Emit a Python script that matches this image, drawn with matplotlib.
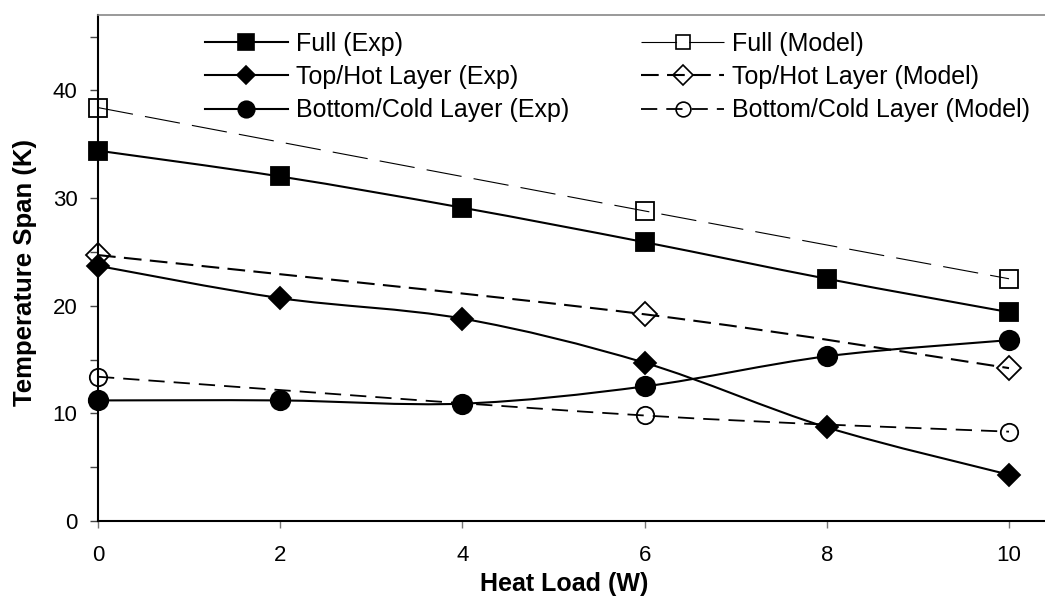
import matplotlib
matplotlib.use('Agg')
import matplotlib.pyplot as plt
import numpy as np
from matplotlib.path import Path
from matplotlib.patches import PathPatch
from matplotlib.lines import Line2D
from matplotlib.ticker import MultipleLocator

plt.rcParams['font.family'] = ['Liberation Sans', 'DejaVu Sans']

# measured points (heat load in W, span in K)
heat_exp = [0, 2, 4, 6, 8, 10]
full_exp = [34.4, 32.0, 29.1, 25.9, 22.5, 19.4]
top_exp = [23.7, 20.7, 18.8, 14.7, 8.7, 4.3]
bottom_exp = [11.2, 11.2, 10.9, 12.5, 15.3, 16.8]

# model points
heat_model = [0, 6, 10]
full_model = [38.4, 28.8, 22.5]
top_model = [24.7, 19.2, 14.2]
bottom_model = [13.4, 9.8, 8.3]

labels = ['Full (Exp)', 'Top/Hot Layer (Exp)', 'Bottom/Cold Layer (Exp)',
          'Full (Model)', 'Top/Hot Layer (Model)', 'Bottom/Cold Layer (Model)']


def smooth_path(x, y):
    # excel-like smoothed line, cubic bezier through each point
    pts = np.column_stack([x, y]).astype(float)
    n = len(pts)
    verts = [pts[0]]
    codes = [Path.MOVETO]
    for i in range(n - 1):
        p0 = pts[max(i - 1, 0)]
        p1 = pts[i]
        p2 = pts[i + 1]
        p3 = pts[min(i + 2, n - 1)]
        verts += [p1 + (p2 - p0) / 6, p2 - (p3 - p1) / 6, p2]
        codes += [Path.CURVE4] * 3
    return Path(verts, codes)


fig = plt.figure(figsize=(10.45, 5.98), dpi=100)
ax = fig.add_axes([98 / 1045, 77 / 598, 947 / 1045, 506 / 598])

series = [
    (heat_exp, full_exp, 's', 13.5, 'k', '-', 1.5),
    (heat_exp, top_exp, 'D', 11, 'k', '-', 1.5),
    (heat_exp, bottom_exp, 'o', 14, 'k', '-', 1.5),
    (heat_model, full_model, 's', 12.5, 'none', (0, (32, 11)), 0.8),
    (heat_model, top_model, 'D', 12, 'none', (0, (8.5, 4)), 1.5),
    (heat_model, bottom_model, 'o', 12.5, 'none', (0, (9, 5)), 1.3),
]

handles = []
for x, y, mk, ms, fc, ls, lw in series:
    ax.add_patch(PathPatch(smooth_path(x, y), facecolor='none', edgecolor='k',
                           linestyle=ls, linewidth=lw, zorder=2))
    ax.plot(x, y, linestyle='none', marker=mk, ms=ms, mfc=fc, mec='k',
            mew=1.3, zorder=3, clip_on=False)
    handles.append(Line2D([], [], color='k', linestyle=ls, linewidth=lw,
                          marker=mk, ms=ms * 0.85, mfc=fc, mec='k', mew=1.2))

ax.set_xlim(0, 947 / 91.1)
ax.set_ylim(0, 47)
ax.xaxis.set_major_locator(MultipleLocator(2))
ax.yaxis.set_major_locator(MultipleLocator(10))
ax.yaxis.set_minor_locator(MultipleLocator(5))

ax.tick_params(axis='y', which='both', direction='out', length=5.8, width=1,
               color='#444444', labelsize=16, pad=9)
ax.tick_params(axis='x', direction='out', length=5, width=1,
               color='#777777', labelsize=16, pad=12)

ax.spines['right'].set_visible(False)
ax.spines['top'].set_color('#888888')
ax.spines['top'].set_linewidth(1.2)
ax.spines['left'].set_linewidth(1.5)
ax.spines['bottom'].set_linewidth(1.5)

ax.set_xlabel('Heat Load (W)', fontsize=18, fontweight='bold')
ax.xaxis.set_label_coords(0.492, -0.101)
ax.set_ylabel('Temperature Span (K)', fontsize=18.5, fontweight='bold')
ax.yaxis.set_label_coords(-0.064, 0.492)

fig.legend(handles, labels, ncol=2, loc='upper left',
           bbox_to_anchor=(205 / 1045, 1 - 31.5 / 598), frameon=False,
           fontsize=18, handlelength=3.3, handletextpad=0.32,
           columnspacing=2.9, labelspacing=0.38, borderpad=0, borderaxespad=0)

fig.savefig('out.png', dpi=100)
